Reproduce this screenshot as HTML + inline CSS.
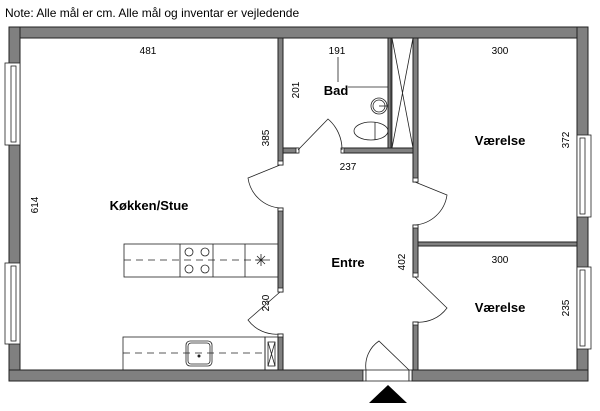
<!DOCTYPE html>
<html><head><meta charset="utf-8"><style>
html,body{margin:0;padding:0;background:#fff;}
svg{display:block;font-family:"Liberation Sans",sans-serif;}
</style></head><body>
<svg width="600" height="411" viewBox="0 0 600 411" xmlns="http://www.w3.org/2000/svg">
<text x="5" y="17" font-size="12" fill="#000">Note: Alle mål er cm. Alle mål og inventar er vejledende</text>
<g fill="#808080" stroke="#222" stroke-width="1">
<!-- outer walls -->
<rect x="9" y="27" width="579" height="11"/>
<rect x="9" y="27" width="11" height="354"/>
<rect x="577" y="27" width="11" height="354"/>
<rect x="9" y="370" width="354" height="11"/>
<rect x="412" y="370" width="176" height="11"/>
<!-- kitchen wall -->
<rect x="278" y="38" width="5" height="127"/>
<rect x="278" y="208" width="5" height="84"/>
<rect x="278" y="334" width="5" height="36"/>
<!-- bad bottom wall -->
<rect x="283" y="148" width="15" height="5"/>
<rect x="342" y="148" width="76" height="5"/>
<rect x="388" y="38" width="3" height="110"/>
<!-- right rooms wall -->
<rect x="413" y="38" width="5" height="144"/>
<rect x="413" y="225" width="5" height="52"/>
<rect x="413" y="322" width="5" height="48"/>
<rect x="418" y="242" width="159" height="4"/>
</g>
<!-- door stubs -->
<g fill="#fff" stroke="#222" stroke-width="0.8">
<rect x="278" y="161" width="5" height="4"/><rect x="278" y="208" width="5" height="3"/>
<rect x="278" y="288" width="5" height="4"/><rect x="278" y="334" width="5" height="3"/>
<rect x="296" y="148" width="3" height="5"/><rect x="341" y="148" width="3" height="5"/>
<rect x="413" y="178" width="5" height="4"/><rect x="413" y="225" width="5" height="3"/>
<rect x="413" y="273" width="5" height="4"/><rect x="413" y="322" width="5" height="3"/>
<!-- windows -->
<rect x="5" y="63" width="15" height="82"/><rect x="11" y="66" width="5" height="76"/>
<rect x="5" y="263" width="15" height="81"/><rect x="11" y="266" width="5" height="75"/>
<rect x="577" y="135" width="14" height="82"/><rect x="580" y="138" width="5" height="76"/>
<rect x="577" y="267" width="14" height="82"/><rect x="580" y="270" width="5" height="76"/>
<!-- entrance -->
<rect x="363" y="370" width="3" height="11"/><rect x="366" y="370" width="43" height="11"/><rect x="409" y="370" width="3" height="11"/>
</g>
<polygon points="388,385 369,403 407,403" fill="#000"/>
<!-- door swings -->
<g fill="none" stroke="#222" stroke-width="0.8">
<path d="M280,165 L248,178 A35,35 0 0 0 280,208"/>
<path d="M280,292 L248,320 A35,35 0 0 0 280,334"/>
<path d="M298,150 L328,119 A40,40 0 0 1 342,150"/>
<path d="M415,182 L447,195 A35,35 0 0 1 415,225"/>
<path d="M415,277 L447,308 A35,35 0 0 1 415,322"/>
<path d="M409,370 L379,341 A30,30 0 0 0 366,370"/>
<!-- shower -->
<rect x="392" y="38" width="21" height="110"/>
<path d="M392,38 L413,148 M413,38 L392,148"/>
<!-- bad fixtures -->
<path d="M338,57 V82 M348,87 H388"/>
<circle cx="379" cy="106" r="8"/><circle cx="379" cy="106" r="6"/>
<path d="M379,106 H388"/>
<ellipse cx="371" cy="131" rx="17" ry="9"/>
<path d="M375,122 V140"/>
<!-- kitchen island -->
<rect x="124" y="244" width="154" height="33"/>
<path d="M180,244 V277 M213,244 V277 M245,244 V277"/>
<path d="M124,260 H270" stroke-dasharray="7,5"/>
<circle cx="189" cy="252" r="4"/><circle cx="205" cy="252" r="4"/>
<circle cx="189" cy="269" r="4"/><circle cx="205" cy="269" r="4"/>
<path d="M255,260 H268 M261,254 V266 M257,256 L265,264 M265,256 L257,264"/>
<!-- lower counter -->
<rect x="123" y="337" width="142" height="33"/>
<path d="M123,353 H263" stroke-dasharray="7,5"/>
<rect x="186" y="341" width="26" height="25" rx="4"/>
<rect x="188" y="343" width="22" height="21" rx="3"/>
<rect x="265" y="337" width="13" height="33"/>
<rect x="268" y="342" width="7" height="24"/>
<path d="M268,342 L275,366 M275,342 L268,366"/>
</g>
<circle cx="199" cy="356" r="1.5" fill="#222"/>
<!-- labels -->
<g font-size="10" fill="#000" text-anchor="middle">
<text x="148" y="54">481</text>
<text x="337" y="54">191</text>
<text x="500" y="54">300</text>
<text x="348" y="170">237</text>
<text x="500" y="263">300</text>
<text transform="translate(38,205) rotate(-90)">614</text>
<text transform="translate(269,138) rotate(-90)">385</text>
<text transform="translate(299,90) rotate(-90)">201</text>
<text transform="translate(569,140) rotate(-90)">372</text>
<text transform="translate(405,262) rotate(-90)">402</text>
<text transform="translate(569,308) rotate(-90)">235</text>
<text transform="translate(269,303) rotate(-90)">230</text>
</g>
<g font-size="13" font-weight="bold" fill="#000" text-anchor="middle">
<text x="336" y="95">Bad</text>
<text x="500" y="145">Værelse</text>
<text x="149" y="210">Køkken/Stue</text>
<text x="348" y="267">Entre</text>
<text x="500" y="312">Værelse</text>
</g>
</svg>
</body></html>
